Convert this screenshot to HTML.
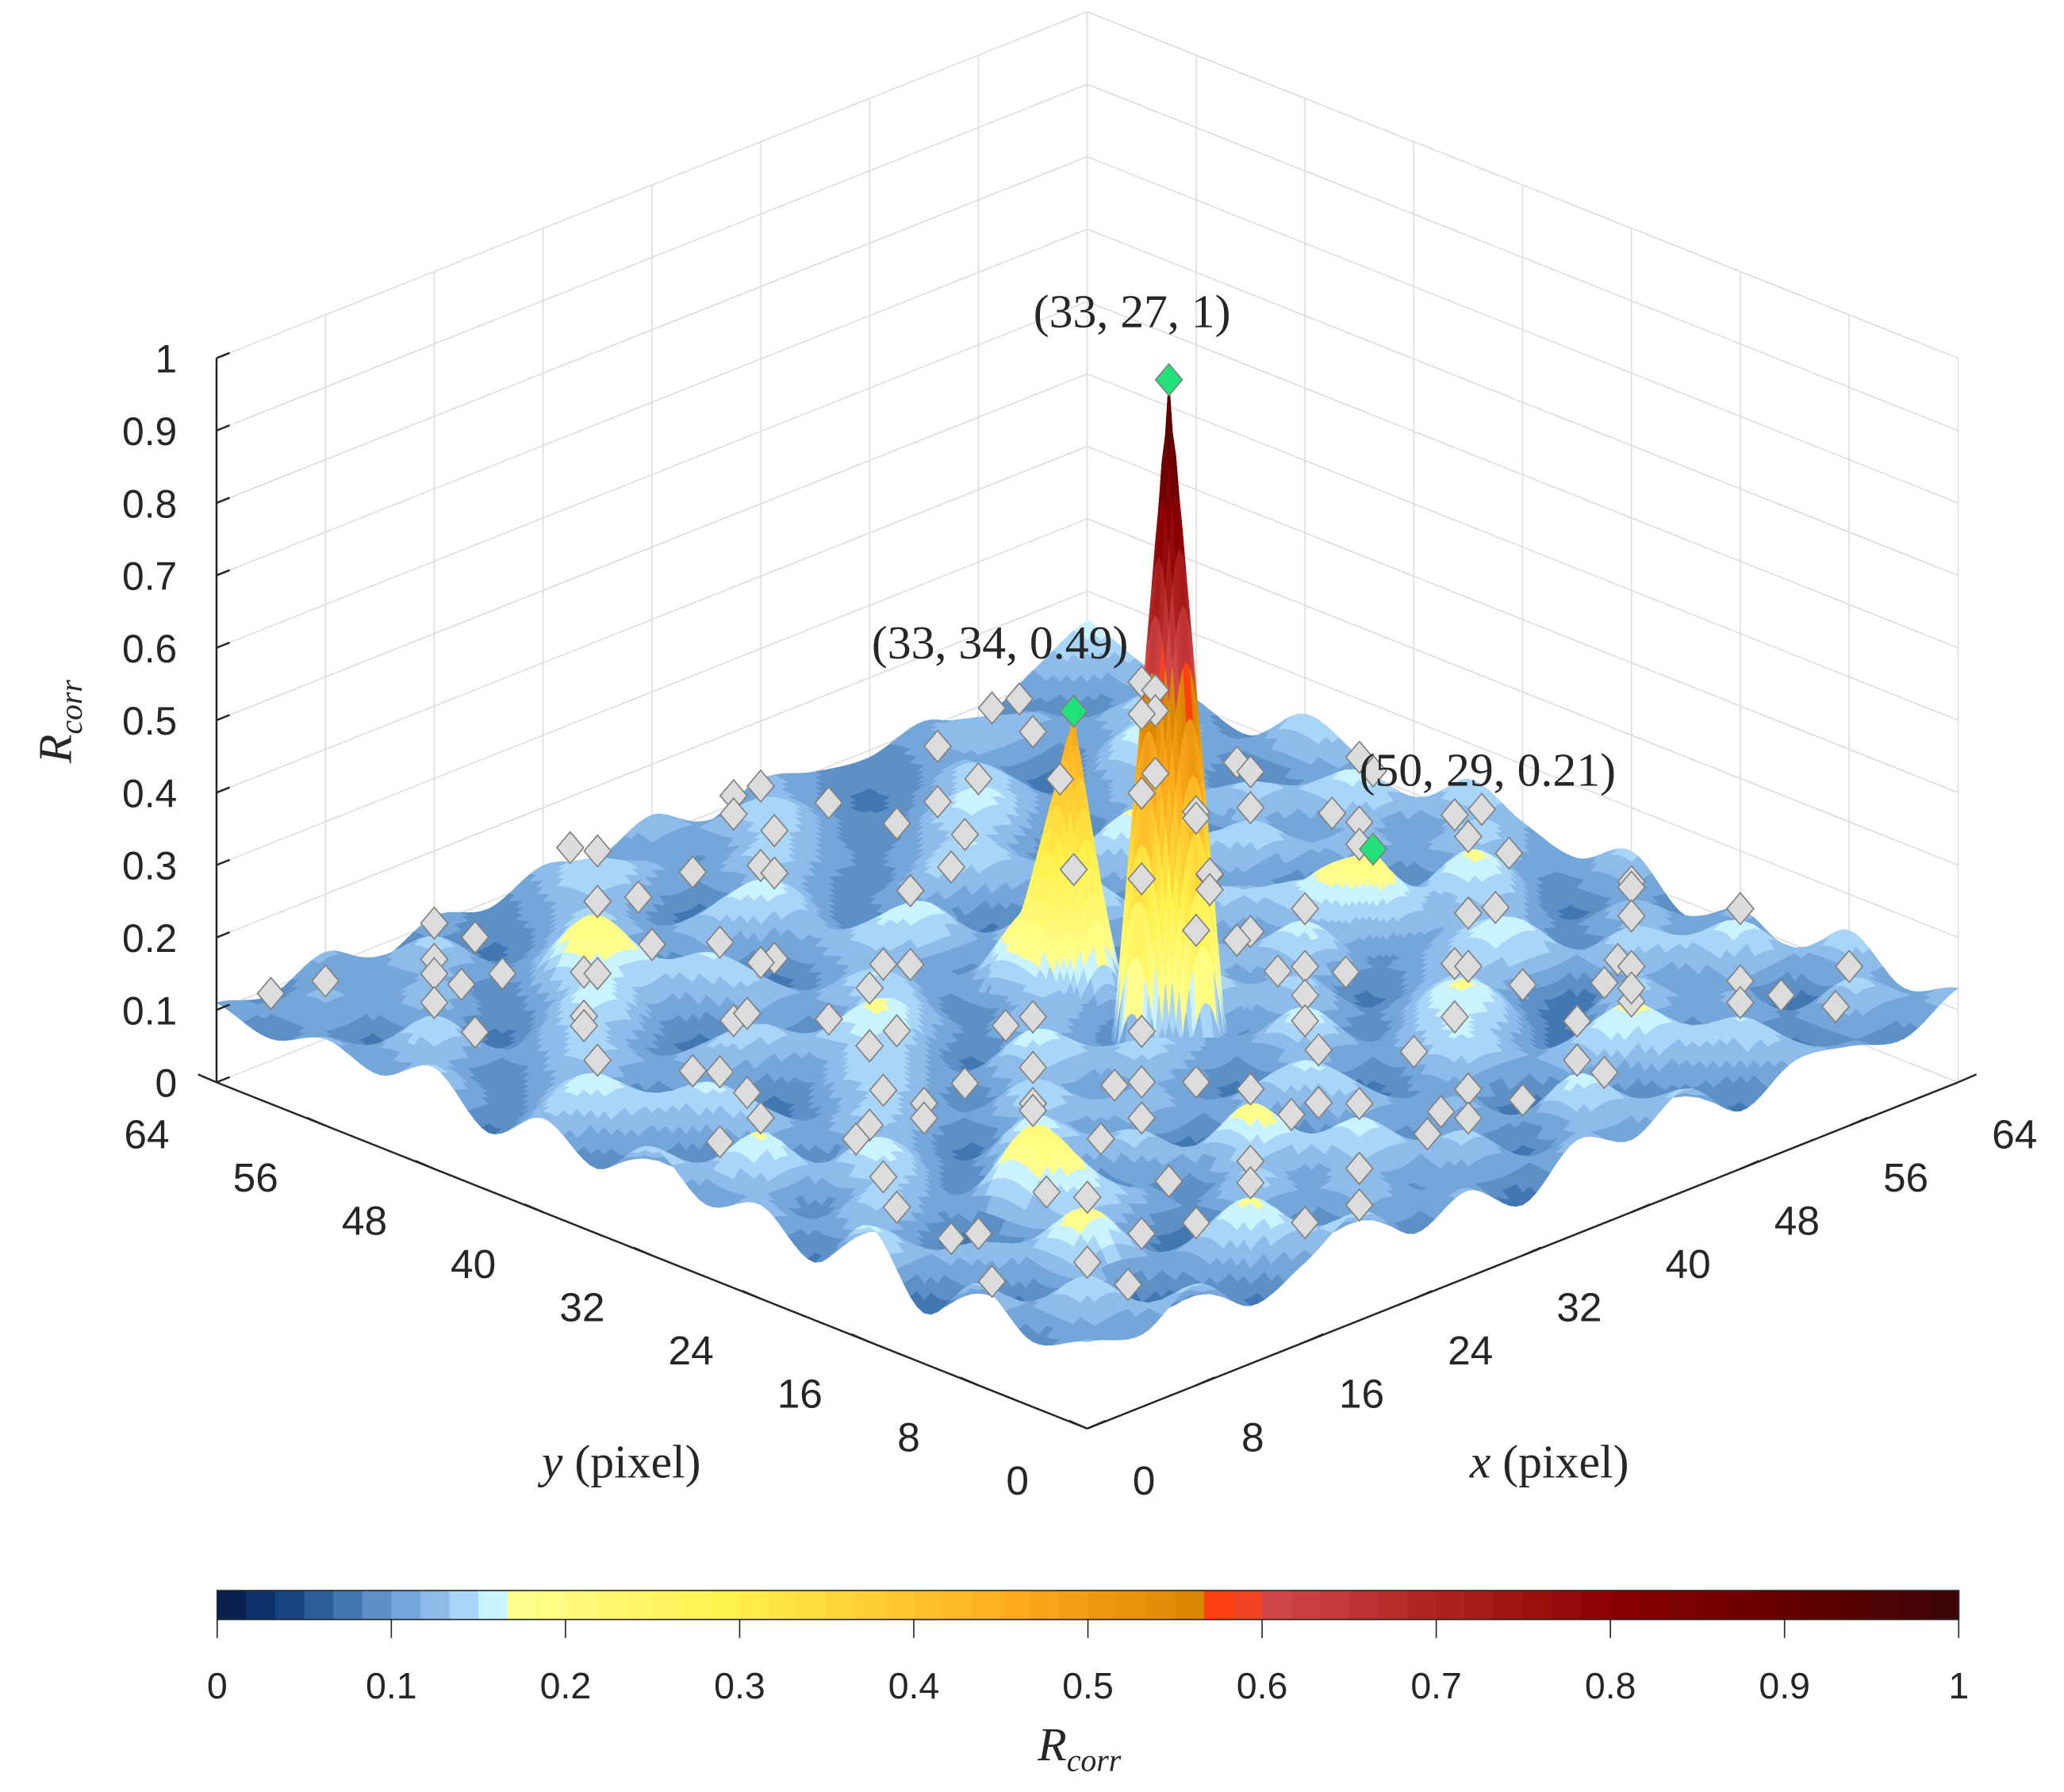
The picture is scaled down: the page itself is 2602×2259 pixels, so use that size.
<!DOCTYPE html>
<html><head><meta charset="utf-8"><style>
html,body{margin:0;padding:0;background:#fff}
svg{display:block}
text{font-family:"Liberation Sans",sans-serif;fill:#262626}
.ser{font-family:"Liberation Serif",serif}
</style></head><body>
<svg id="chart" width="2602" height="2259" viewBox="0 0 1568 1361" preserveAspectRatio="none" xmlns="http://www.w3.org/2000/svg">
<g id="walls"></g>
<g id="surf"></g>
<g id="marks"></g>
<g id="axes"></g>
<g id="cbar"></g>
<text class="ser" font-style="italic" font-size="36" transform="translate(54,548) rotate(-90)" text-anchor="middle">R<tspan font-size="24" dy="8">corr</tspan></text>
<text class="ser" font-size="36" x="472" y="1122" text-anchor="middle"><tspan font-style="italic">y</tspan> (pixel)</text>
<text class="ser" font-size="36" x="1177" y="1122" text-anchor="middle"><tspan font-style="italic">x</tspan> (pixel)</text>
<text class="ser" font-style="italic" font-size="36" x="820" y="1337" text-anchor="middle">R<tspan font-size="24" dy="8">corr</tspan></text>
</svg>
<script>
// ---- data ----
const gridStep = 4;
const zGrid = [
[.12,.10,.14,.08,.11,.15,.09,.12,.07,.13,.10,.14,.08,.12,.11,.09,.13],
[.09,.15,.07,.12,.17,.08,.13,.10,.14,.08,.16,.09,.12,.15,.08,.14,.10],
[.14,.08,.18,.10,.07,.14,.11,.16,.09,.12,.07,.13,.17,.09,.12,.07,.15],
[.07,.13,.11,.15,.12,.09,.18,.08,.13,.10,.15,.11,.08,.14,.10,.16,.09],
[.16,.10,.08,.21,.09,.14,.07,.12,.15,.08,.13,.17,.10,.07,.15,.11,.12],
[.08,.14,.12,.09,.16,.11,.13,.10,.08,.16,.09,.12,.14,.16,.09,.13,.08],
[.13,.09,.16,.11,.08,.15,.10,.14,.12,.10,.14,.08,.11,.13,.12,.08,.14],
[.10,.17,.08,.14,.12,.09,.16,.11,.09,.15,.11,.16,.09,.10,.17,.11,.10],
[.15,.08,.13,.10,.15,.12,.08,.13,.12,.09,.13,.10,.15,.12,.08,.14,.12],
[.09,.12,.15,.08,.11,.17,.13,.09,.21,.12,.08,.14,.12,.09,.13,.10,.15],
[.13,.16,.09,.13,.14,.09,.15,.11,.10,.14,.16,.09,.11,.15,.10,.16,.08],
[.08,.11,.14,.10,.08,.13,.10,.14,.16,.08,.11,.13,.17,.09,.14,.11,.12],
[.14,.09,.12,.16,.12,.15,.08,.12,.09,.13,.15,.10,.08,.13,.11,.08,.15],
[.10,.15,.08,.11,.20,.09,.13,.16,.11,.09,.12,.16,.12,.10,.16,.12,.09],
[.12,.08,.13,.09,.12,.14,.10,.08,.14,.12,.09,.11,.14,.08,.10,.14,.11],
[.09,.12,.10,.14,.08,.11,.15,.12,.10,.15,.11,.08,.10,.13,.12,.09,.13],
[.11,.09,.12,.08,.11,.09,.12,.10,.13,.09,.12,.10,.09,.11,.08,.12,.16]];
const peakX = [33, 33, 50];
const peakY = [27, 34, 29];
const peakZ = [1, 0.49, 0.21];
const peakLabels = ["(33, 27, 1)", "(33, 34, 0.49)", "(50, 29, 0.21)"];
const extraMarkX = [2,6,10,14,18,22,26,30,34,38,42,46,50,54,58,62,3,7,11,15,19,23,27,31,35,39,43,47,51,55,59,63,5,9,13,17,21,25,29,37,41,45,49,53,57,61,2,8,12,16,20,24,28,36,40,44,48,52,56,60,4,10,14,18,22,26,30,34,38,42,46,50,54,58,6,12,20,28,44,52,60,9,17,25,41,49,57];
const extraMarkY = [9,3,13,6,17,2,11,5,8,14,4,19,10,15,7,22,30,24,36,27,33,21,40,44,19,25,31,38,23,35,28,42,50,46,56,43,53,48,58,47,55,41,60,45,52,57,62,37,49,61,39,57,51,62,59,35,44,54,61,49,18,58,26,12,46,32,13,60,6,53,10,42,58,3,16,8,29,20,25,14,33,55,1,63,30,17,39];
const zTicks = [0,0.1,0.2,0.3,0.4,0.5,0.6,0.7,0.8,0.9,1];
const zTickLabels = ["0","0.1","0.2","0.3","0.4","0.5","0.6","0.7","0.8","0.9","1"];
const xyTicks = [0,8,16,24,32,40,48,56,64];
const cbTicks = [0,0.1,0.2,0.3,0.4,0.5,0.6,0.7,0.8,0.9,1];
const cbTickLabels = ["0","0.1","0.2","0.3","0.4","0.5","0.6","0.7","0.8","0.9","1"];
const cmapStops = [[0,"#08183f"],[0.02,"#0b2d63"],[0.04,"#14427f"],[0.06,"#2b609a"],[0.08,"#4a80b8"],[0.1,"#6a9cd2"],[0.12,"#84b4e6"],[0.14,"#a6d3f7"],[0.16,"#ccf6ff"],[0.165,"#ffff90"],[0.3,"#fff04a"],[0.45,"#ffae1e"],[0.57,"#d68400"],[0.575,"#ff4010"],[0.59,"#ff4010"],[0.595,"#d44c4c"],[0.7,"#b02222"],[0.8,"#8a0000"],[0.9,"#660000"],[1,"#3a0505"]];

// ---- scales ----
const NS="http://www.w3.org/2000/svg";
function P(x,y,z){return [826+(x-y)/64*661.5, 1085-(x+y)/64*263-z*550];}
function hex(h){return [parseInt(h.substr(1,2),16),parseInt(h.substr(3,2),16),parseInt(h.substr(5,2),16)];}
function cmap(v){
  v=Math.max(0,Math.min(1,v)); v=Math.floor(v*60)/60+1/120;
  for(let i=1;i<cmapStops.length;i++){
    if(v<=cmapStops[i][0]){const a=cmapStops[i-1],b=cmapStops[i];const t=(v-a[0])/(b[0]-a[0]||1);
      const ca=hex(a[1]),cb=hex(b[1]);return "rgb("+ca.map((c,k)=>Math.round(c+(cb[k]-c)*t)).join(",")+")";}
  }
  return cmapStops[cmapStops.length-1][1];
}
function el(tag,attrs,parent){const e=document.createElementNS(NS,tag);for(const k in attrs)e.setAttribute(k,attrs[k]);parent.appendChild(e);return e;}
function pts(a){return a.map(p=>p[0].toFixed(1)+","+p[1].toFixed(1)).join(" ");}

// ---- walls ----
const walls=document.getElementById("walls");
for(const t of zTicks){
  const l=el("polyline",{points:pts([P(0,64,t),P(64,64,t),P(64,0,t)]),fill:"none",stroke:"#dedede","stroke-width":1},walls);
  
  
}
for(const t of xyTicks){
  const a=el("line",{},walls);const p1=P(t,64,0),p2=P(t,64,1);
  a.setAttribute("x1",p1[0]);a.setAttribute("y1",p1[1]);a.setAttribute("x2",p2[0]);a.setAttribute("y2",p2[1]);a.setAttribute("stroke","#dedede");
  
  
  const b=el("line",{},walls);const q1=P(64,t,0),q2=P(64,t,1);
  b.setAttribute("x1",q1[0]);b.setAttribute("y1",q1[1]);b.setAttribute("x2",q2[0]);b.setAttribute("y2",q2[1]);b.setAttribute("stroke","#dedede");
  
  
}

// ---- surface ----
function cr(p0,p1,p2,p3,t){return 0.5*((2*p1)+(-p0+p2)*t+(2*p0-5*p1+4*p2-p3)*t*t+(-p0+3*p1-3*p2+p3)*t*t*t);}
function g(i,j){i=Math.max(0,Math.min(16,i));j=Math.max(0,Math.min(16,j));return zGrid[j][i];}
function base(x,y){
  const fx=x/gridStep,fy=y/gridStep;let i=Math.min(15,Math.floor(fx)),j=Math.min(15,Math.floor(fy));
  const tx=fx-i,ty=fy-j;const r=[];
  for(let m=-1;m<=2;m++)r.push(cr(g(i-1,j+m),g(i,j+m),g(i+1,j+m),g(i+2,j+m),tx));
  return Math.max(0.03,cr(r[0],r[1],r[2],r[3],ty));
}
function zAt(x,y){
  const b=base(x,y);let add=0;
  for(let k=0;k<peakX.length;k++){const d=Math.hypot(x-peakX[k],y-peakY[k]);
    const r=peakZ[k]>0.6?2.9:(peakZ[k]>0.3?2.9:4);
    const pw=peakZ[k]>0.6?1:(peakZ[k]>0.3?1.3:1.2);
    if(d>=r)continue;
    const b0=base(peakX[k],peakY[k]);
    add=Math.max(add,(peakZ[k]-b0)*Math.pow(1-d/r,pw));}
  return b+add;
}
const R=0.25,N=Math.round(64/R)+1,Z=[];
for(let j=0;j<N;j++){Z.push([]);for(let i=0;i<N;i++)Z[j].push(zAt(i*R,j*R));}
const surf=document.getElementById("surf");
// coarse patches (2x2 cells) away from peaks, fine patches near peaks
const quads=[];
for(let j=0;j<N-1;j+=2)for(let i=0;i<N-1;i+=2){
  const cx=i*R+R,cy=j*R+R;let near=false;
  for(let k=0;k<peakX.length;k++)if(Math.hypot(cx-peakX[k],cy-peakY[k])<4.5)near=true;
  if(near){quads.push([i,j,1]);quads.push([i+1,j,1]);quads.push([i,j+1,1]);quads.push([i+1,j+1,1]);}
  else quads.push([i,j,2]);
}
quads.sort((a,b)=>(b[0]+b[1]+b[2])-(a[0]+a[1]+a[2]));
for(const [i,j,s] of quads){
  const z1=Z[j][i],z2=Z[j][i+s],z3=Z[j+s][i+s],z4=Z[j+s][i];
  const x=i*R,y=j*R,w=s*R;
  const c=cmap((z1+z2+z3+z4)/4);
  const q=el("polygon",{points:pts([P(x,y,z1),P(x+w,y,z2),P(x+w,y+w,z3),P(x,y+w,z4)]),fill:c,stroke:c,"stroke-width":0.5},surf);
  
  
}

// ---- markers ----
const marks=document.getElementById("marks");
function diamond(x,y,z,fill,name){
  const p=P(x,y,z);const s=12;
  const d=el("polygon",{points:pts([[p[0],p[1]-s],[p[0]+s*0.85,p[1]],[p[0],p[1]+s],[p[0]-s*0.85,p[1]]]),fill:fill,stroke:"#808080","stroke-width":1},marks);
  
  
}
const mk=[];
for(let y=1;y<64;y++)for(let x=1;x<64;x++){
  const z0=zAt(x,y);let ismax=true;
  for(let dy=-1;dy<=1&&ismax;dy++)for(let dx=-1;dx<=1;dx++){if((dx||dy)&&zAt(x+dx,y+dy)>=z0){ismax=false;break;}}
  let nearPeak=false;for(let k=0;k<peakX.length;k++)if(Math.hypot(x-peakX[k],y-peakY[k])<4)nearPeak=true;
  if(ismax&&!nearPeak)mk.push([x,y]);
}
for(let k=0;k<extraMarkX.length;k++){
  let nearPeak=false;for(let m=0;m<peakX.length;m++)if(Math.hypot(extraMarkX[k]-peakX[m],extraMarkY[k]-peakY[m])<4)nearPeak=true;
  if(!nearPeak)mk.push([extraMarkX[k],extraMarkY[k]]);
}
mk.sort((a,b)=>(b[0]+b[1])-(a[0]+a[1]));
for(const [x,y] of mk)diamond(x,y,zAt(x,y)+0.02,"#dcdcdc","local-max-marker");
for(let k=0;k<peakX.length;k++){
  diamond(peakX[k],peakY[k],peakZ[k],"#22e07a","peak-marker");
  const p=P(peakX[k],peakY[k],peakZ[k]);
  const t=el("text",{x:p[0]-28+(k==2?115:0)+(k==1?-28:0),y:p[1]-40+(k==2?-8:0),"text-anchor":"middle","font-size":36,class:"ser"},marks);
  t.textContent=peakLabels[k];
  
  
}

// ---- axes ----
const axes=document.getElementById("axes");
function line(a,b,name,col,w){const l=el("line",{x1:a[0],y1:a[1],x2:b[0],y2:b[1],stroke:col||"#262626","stroke-width":w||1.5},axes);
  return l;}
line(P(0,64,0),P(0,64,1),"z-axis-line");
line(P(0,64,0),P(0,0,0),"y-axis-line");
line(P(0,0,0),P(64,0,0),"x-axis-line");
for(let i=0;i<zTicks.length;i++){
  const p=P(0,64,zTicks[i]);line(p,[p[0]+10,p[1]-4],"z-tick");
  const t=el("text",{x:p[0]-30,y:p[1]+11,"text-anchor":"end","font-size":30},axes);t.textContent=zTickLabels[i];
  
  
}
for(const v of xyTicks){
  const p=P(0,v,0);line(p,[p[0]-14,p[1]-6],"y-tick");
  const t=el("text",{x:p[0]-53,y:p[1]+50,"text-anchor":"middle","font-size":31},axes);t.textContent=String(v);
  
  
  const q=P(v,0,0);line(q,[q[0]+14,q[1]-6],"x-tick");
  const u=el("text",{x:q[0]+43,y:q[1]+50,"text-anchor":"middle","font-size":31},axes);u.textContent=String(v);
  
  
}

// ---- colorbar ----
const cb=document.getElementById("cbar");
const cbx0=165,cbx1=1488,cby=1208,cbh=22;
for(let i=0;i<60;i++){
  const r=el("rect",{x:cbx0+(cbx1-cbx0)*i/60,y:cby,width:(cbx1-cbx0)/60+0.6,height:cbh,fill:cmap(i/60)},cb);
  
  
}
const fr=el("rect",{x:cbx0,y:cby,width:cbx1-cbx0,height:cbh,fill:"none",stroke:"#262626","stroke-width":1},cb);


for(let i=0;i<cbTicks.length;i++){
  const x=cbx0+(cbx1-cbx0)*cbTicks[i];
  const l=el("line",{x1:x,y1:cby+cbh,x2:x,y2:cby+cbh+14,stroke:"#262626","stroke-width":1},cb);
  
  
  const t=el("text",{x:x,y:1290,"text-anchor":"middle","font-size":28},cb);t.textContent=cbTickLabels[i];
  
  
}
</script>
</body></html>
